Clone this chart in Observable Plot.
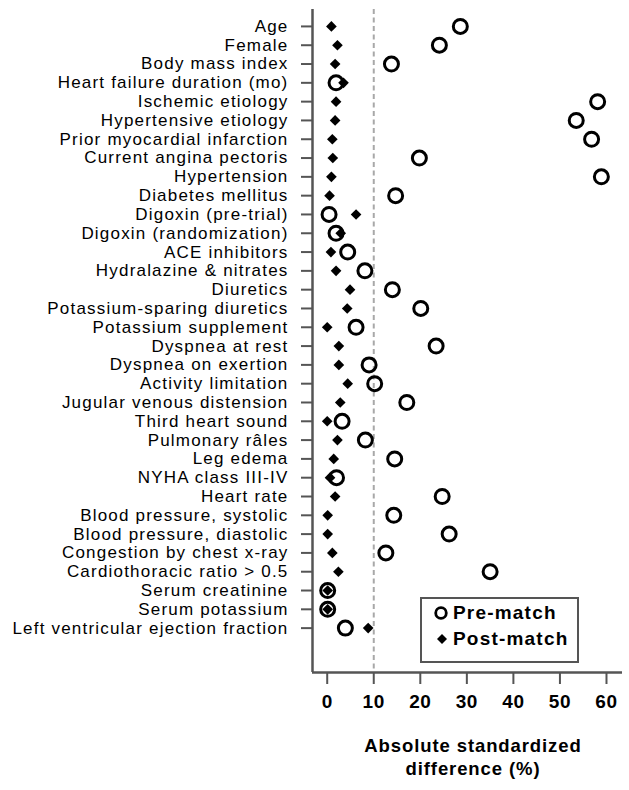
<!DOCTYPE html>
<html>
<head>
<meta charset="utf-8">
<script src="https://cdn.jsdelivr.net/npm/d3@7"></script>
<script src="https://cdn.jsdelivr.net/npm/@observablehq/plot@0.6"></script>
<style>
  body { margin: 0; background: white; font-family: "Liberation Sans", Arial, sans-serif; }
  #wrap { position: relative; width: 629px; }
  g[aria-label="y-axis tick label"] text { letter-spacing: 1.2px; }
  g[aria-label="x-axis tick label"] text { letter-spacing: 0.6px; }
  #legend { position: absolute; left: 420px; top: 597px; width: 159px; height: 66px; box-sizing: border-box;
            border: 2px solid #555; background: white; }
  .lrow { position: absolute; left: 0; height: 20px; line-height: 20px; font-weight: bold; font-size: 19px;
          letter-spacing: 1.2px; color: black; white-space: nowrap; }
  .lrow svg { position: absolute; left: 9px; top: 0; }
  .lrow span { position: absolute; left: 31px; top: 0; }
  #caption { width: 629px; box-sizing: border-box; padding-left: 317px; padding-top: 14px; text-align: center;
             font-weight: bold; font-size: 18.5px; letter-spacing: 0.9px; line-height: 23px; color: black; }
</style>
</head>
<body>
<div id="wrap">
  <div id="chart"></div>
  <div id="legend">
    <div class="lrow" style="top:4px"><svg width="20" height="20"><circle cx="10" cy="10" r="5.3" fill="none" stroke="black" stroke-width="2.8"/></svg><span>Pre-match</span></div>
    <div class="lrow" style="top:30px"><svg width="20" height="20"><path d="M11,5 L16,10 L11,15 L6,10 Z" fill="black"/></svg><span>Post-match</span></div>
  </div>
  <div id="caption">Absolute standardized<br>difference (%)</div>
</div>
<script>
const labels = [
  "Age", "Female", "Body mass index", "Heart failure duration (mo)", "Ischemic etiology",
  "Hypertensive etiology", "Prior myocardial infarction", "Current angina pectoris", "Hypertension",
  "Diabetes mellitus", "Digoxin (pre-trial)", "Digoxin (randomization)", "ACE inhibitors",
  "Hydralazine & nitrates", "Diuretics", "Potassium-sparing diuretics", "Potassium supplement",
  "Dyspnea at rest", "Dyspnea on exertion", "Activity limitation", "Jugular venous distension",
  "Third heart sound", "Pulmonary râles", "Leg edema", "NYHA class III-IV", "Heart rate",
  "Blood pressure, systolic", "Blood pressure, diastolic", "Congestion by chest x-ray",
  "Cardiothoracic ratio > 0.5", "Serum creatinine", "Serum potassium", "Left ventricular ejection fraction"
];
const preMatch = [
  28.6, 24.1, 13.8, 1.9, 58.1, 53.5, 56.8, 19.8, 58.9, 14.7,
  0.4, 1.9, 4.4, 8.1, 14.0, 20.1, 6.2, 23.4, 9.0, 10.2,
  17.1, 3.2, 8.2, 14.5, 2.0, 24.7, 14.3, 26.2, 12.6, 35.0,
  0.1, 0.1, 3.9
];
const postMatch = [
  0.9, 2.2, 1.7, 3.5, 1.9, 1.7, 1.1, 1.2, 0.9, 0.5,
  6.2, 2.9, 0.8, 1.9, 4.9, 4.3, 0.0, 2.5, 2.5, 4.4,
  2.8, 0.0, 2.2, 1.4, 0.6, 1.7, 0.1, 0.1, 1.1, 2.4,
  0.1, 0.1, 8.8
];
const xTicks = [0, 10, 20, 30, 40, 50, 60];
const threshold = [10];

const rows = labels.map((label, i) => ({label, i, pre: preMatch[i], post: postMatch[i]}));
const xDomain = [-3.16, 63.44];
const yDomain = [-0.9, 34.36];

const chart = Plot.plot({
  width: 629,
  height: 720,
  marginLeft: 312,
  marginRight: 7,
  marginTop: 9,
  marginBottom: 48,
  style: {fontFamily: "Liberation Sans, Arial, sans-serif", background: "white", color: "black"},
  x: {domain: xDomain},
  y: {domain: yDomain, reverse: true},
  marks: [
    Plot.ruleX(threshold, {stroke: "#a8a8a8", strokeWidth: 2, strokeDasharray: "5,3.5"}),
    Plot.axisY(rows.map(d => d.i), {
      tickFormat: i => labels[i], tickSize: 11, tickPadding: 13, fontSize: 17,
      stroke: "#555", strokeWidth: 2, fill: "black", label: null
    }),
    Plot.axisX(xTicks, {
      tickSize: 12, tickPadding: 10, fontSize: 19, fontWeight: "bold",
      stroke: "#555", strokeWidth: 2, fill: "black", label: null
    }),
    Plot.ruleX([xDomain[0]], {stroke: "#555", strokeWidth: 2.5}),
    Plot.ruleY([yDomain[1]], {stroke: "#555", strokeWidth: 2.5}),
    Plot.dot(rows, {x: "pre", y: "i", r: 7, stroke: "black", strokeWidth: 3, fill: "none"}),
    Plot.dot(rows, {x: "post", y: "i", symbol: "diamond2", r: 4.8, fill: "black", stroke: "none"})
  ]
});
document.getElementById("chart").appendChild(chart);
</script>
</body>
</html>
